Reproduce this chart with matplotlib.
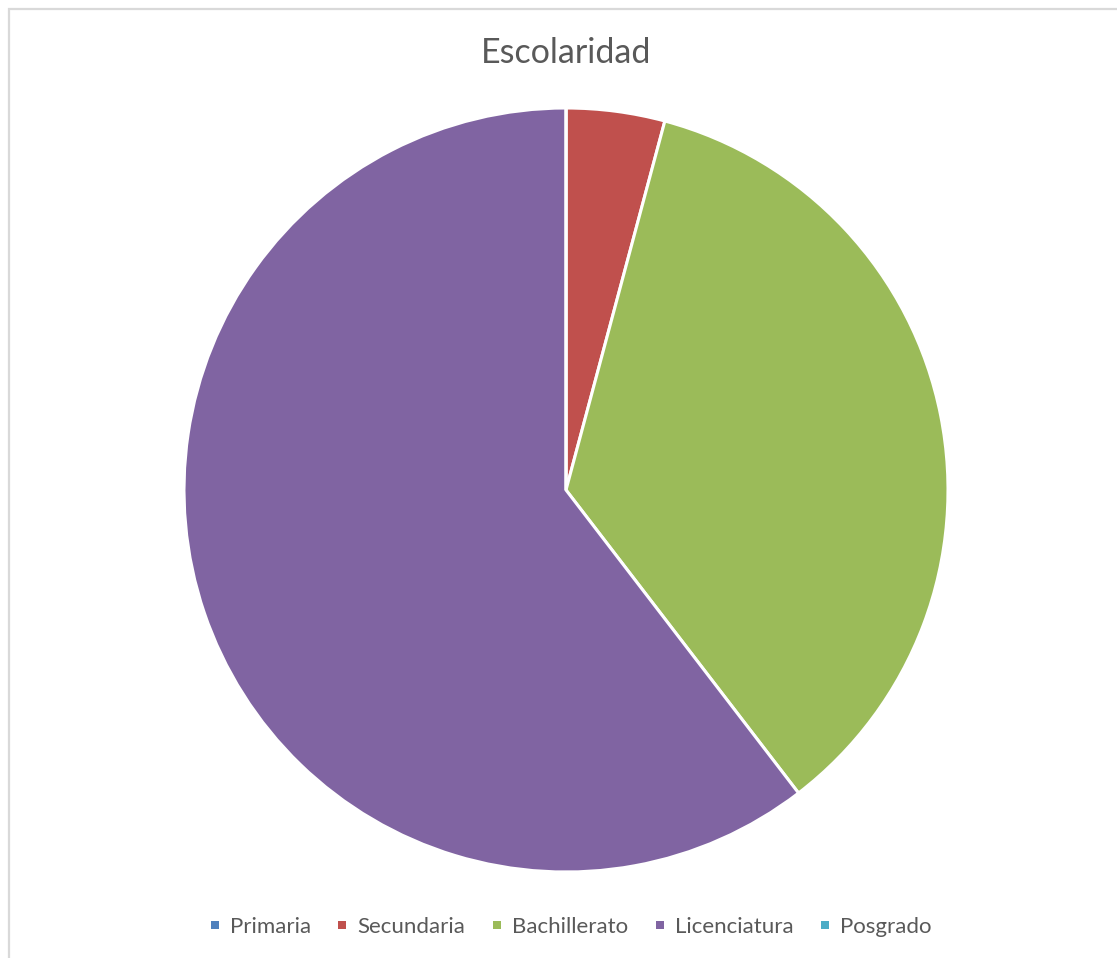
import matplotlib
matplotlib.use("Agg")
import matplotlib.pyplot as plt
from matplotlib.lines import Line2D
from matplotlib.patches import Rectangle

categories = ["Primaria", "Secundaria", "Bachillerato", "Licenciatura", "Posgrado"]
counts = [0, 2, 17, 29, 0]
colors = ["#4f81bd", "#c0504d", "#9bbb59", "#8064a2", "#4bacc6"]

W, H = 1117, 958
fig = plt.figure(figsize=(W / 100, H / 100), dpi=100)
fig.patch.set_facecolor("white")

# light chart-area border (top and left edges visible)
fig.patches.append(Rectangle((9 / W, -0.1), 1.2, 1 - 9 / H + 0.1,
                             transform=fig.transFigure, fill=False,
                             edgecolor="#d9d9d9", lw=1.6))

# pie axes: centre (566, 490) px, radius 382 px
r, cx, cy = 382, 566, 490
ax = fig.add_axes([(cx - r) / W, (H - cy - r) / H, 2 * r / W, 2 * r / H])
vals = [c if c > 0 else 1e-9 for c in counts]
wedges, _ = ax.pie(vals, colors=colors, startangle=90, counterclock=False,
                   radius=1.0,
                   wedgeprops=dict(edgecolor="white", linewidth=2.2))
ax.set_xlim(-1, 1)
ax.set_ylim(-1, 1)
ax.set_aspect("equal")
ax.axis("off")

fig.text(cx / W, 1 - 53 / H, "Escolaridad", ha="center", va="center",
         fontsize=24.5, color="#595959", family="Lato")

handles = [Line2D([], [], ls="none", marker="s", ms=5.8, color=c,
                  markeredgewidth=0) for c in colors]
fig.legend(handles, categories, loc="center", bbox_to_anchor=(570 / W, 1 - 927 / H),
           ncol=5, frameon=False, handlelength=0.55, handletextpad=0.4,
           columnspacing=1.15, prop=dict(family="Lato", size=16),
           labelcolor="#595959")

fig.savefig("out.png", dpi=100)
